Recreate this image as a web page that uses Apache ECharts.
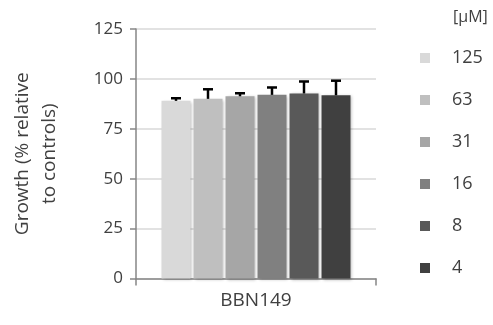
<!DOCTYPE html>
<html><head><meta charset="utf-8">
<script src="https://cdn.jsdelivr.net/npm/echarts@6/dist/echarts.min.js"></script>
<style>html,body{margin:0;padding:0;background:#fff}#c{width:493px;height:325px}</style>
</head><body><div id="c"></div>
<script>
var categories = ['BBN149'];
var concentrations = ['125', '63', '31', '16', '8', '4'];
var means = [89, 90, 91.3, 92, 92.7, 91.8];
var errors = [1.3, 4.8, 1.5, 3.7, 6, 7.3];
var yTicks = [0, 25, 50, 75, 100, 125];
var colors = ['#d9d9d9', '#bfbfbf', '#a6a6a6', '#808080', '#595959', '#404040'];

var BAR_W = 29, GAP = 3;
var FONT = '"Open Sans", "Noto Sans", sans-serif';
var chart = echarts.init(document.getElementById('c'));
var series = [];
concentrations.forEach(function (c, i) {
  series.push({
    name: c, type: 'bar', data: [means[i]], barWidth: BAR_W, barGap: (GAP / BAR_W * 100) + '%',
    itemStyle: { color: colors[i], shadowColor: 'rgba(0,0,0,0.25)', shadowBlur: 3, shadowOffsetX: 1, shadowOffsetY: 1 },
    z: 2
  });
});
concentrations.forEach(function (c, i) {
  series.push({
    type: 'custom', name: 'err' + c, z: 3,
    data: [[0, means[i], errors[i]]],
    renderItem: function (params, api) {
      var center = api.coord([api.value(0), api.value(1)]);
      var top = api.coord([api.value(0), api.value(1) + api.value(2)]);
      var off = (i - (concentrations.length - 1) / 2) * (BAR_W + GAP);
      var x = center[0] + off;
      return {
        type: 'group', children: [
          { type: 'line', shape: { x1: x, y1: center[1], x2: x, y2: top[1] }, style: { stroke: '#000', lineWidth: 2.5 } },
          { type: 'line', shape: { x1: x - 5, y1: top[1], x2: x + 5, y2: top[1] }, style: { stroke: '#000', lineWidth: 2.5 } }
        ]
      };
    }
  });
});
chart.setOption({
  animation: false,
  title: { text: '[μM]', left: 448, top: 4, textStyle: { fontFamily: FONT, fontSize: 16, fontWeight: 'normal', color: '#404040' } },
  legend: {
    orient: 'vertical', left: 415, top: 42, itemWidth: 10, itemHeight: 10, itemGap: 20,
    data: concentrations, icon: 'rect',
    itemStyle: { shadowBlur: 0, shadowOffsetX: 0, shadowOffsetY: 0 },
    textStyle: { fontFamily: FONT, fontSize: 18, color: '#404040', padding: [0, 0, 0, 17], lineHeight: 22 }
  },
  grid: { left: 136, right: 117, top: 29, bottom: 46.5, containLabel: false, outerBoundsMode: 'none' },
  xAxis: {
    type: 'category', data: categories,
    axisLine: { lineStyle: { color: '#868686', width: 1.5 } },
    axisTick: { show: true, length: 7, lineStyle: { color: '#868686', width: 1.5 } },
    axisLabel: { fontFamily: FONT, fontSize: 19, color: '#404040', margin: 13 }
  },
  yAxis: {
    type: 'value', min: 0, max: 125, interval: 25,
    name: 'Growth (% relative\nto controls)', nameLocation: 'middle', nameGap: 73, nameRotate: 90,
    nameTextStyle: { fontFamily: FONT, fontSize: 19, color: '#404040', lineHeight: 27 },
    axisLine: { show: true, lineStyle: { color: '#868686', width: 1.5 } },
    axisTick: { show: true, length: 6, lineStyle: { color: '#868686', width: 1.5 } },
    axisLabel: { fontFamily: FONT, fontSize: 17, color: '#404040', margin: 13,
      formatter: function (v) { return yTicks.indexOf(v) >= 0 ? String(v) : ''; } },
    splitLine: { lineStyle: { color: '#d9d9d9', width: 1.5 } }
  },
  series: series
});
</script></body></html>
